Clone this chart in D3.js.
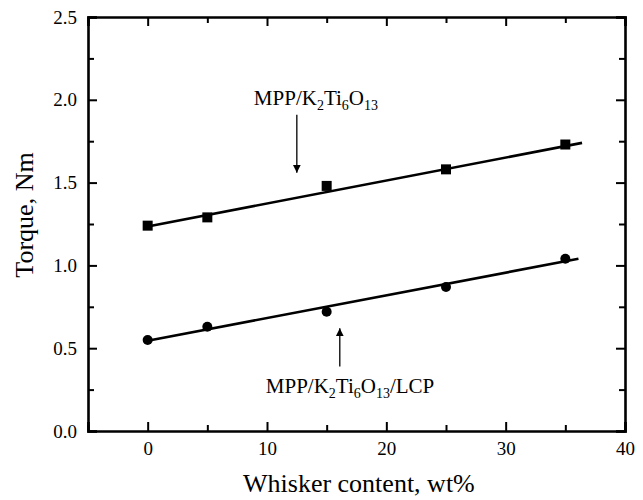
<!DOCTYPE html>
<meta charset="utf-8">
<style>
body { margin: 0; background: #fff; }
.axis text { font-family: 'Liberation Serif', serif; font-size: 19px; fill: #000; }
.axis line, .axis path { stroke: #000; }
</style>
<body>
<div id="chart"></div>
<script src="https://cdnjs.cloudflare.com/ajax/libs/d3/7.8.5/d3.min.js"></script>
<script>
// whisker content (wt%)
var content = [0, 5, 15, 25, 35];
// torque, Nm
var torqueK2Ti = [1.24, 1.29, 1.48, 1.58, 1.73];
var torqueLCP = [0.55, 0.63, 0.72, 0.87, 1.04];
// fitted lines, end points
var fitK2Ti = [[0, 1.235], [36.4, 1.74]];
var fitLCP = [[0, 0.545], [36.1, 1.04]];
var xTicks = [0, 10, 20, 30, 40];
var yTicks = [0.0, 0.5, 1.0, 1.5, 2.0, 2.5];

var margin = {top: 17, right: 18, bottom: 69, left: 88},
    width = 643 - margin.left - margin.right,
    height = 500 - margin.top - margin.bottom;

var svg = d3.select("#chart").append("svg")
    .attr("width", 643)
    .attr("height", 500)
  .append("g")
    .attr("transform", "translate(" + margin.left + "," + margin.top + ")");

var x = d3.scaleLinear().domain([-5, 40]).range([0, width]);
var y = d3.scaleLinear().domain([0, 2.5]).range([height, 0]);

var minorX = d3.range(-5, 40, 10);
var minorY = d3.range(0.25, 2.5, 0.5);

// axes with inward ticks
function addAxis(axis, tr, major, minor, fmt, labels) {
  var g = svg.append("g").attr("class", "axis").attr("transform", tr)
    .call(axis.tickValues(major).tickSize(-9).tickPadding(11).tickFormat(labels ? fmt : ""));
  g.select(".domain").style("stroke-width", 2.6);
  g.selectAll(".tick line").style("stroke-width", 2);
  var g2 = svg.append("g").attr("class", "axis").attr("transform", tr)
    .call(axis.tickValues(minor).tickSize(-6).tickFormat(""));
  g2.select(".domain").remove();
  g2.selectAll(".tick line").style("stroke-width", 2);
}
addAxis(d3.axisBottom(x), "translate(0," + height + ")", xTicks, minorX, d3.format("d"), true);
addAxis(d3.axisTop(x), "translate(0,0)", xTicks, minorX, d3.format("d"), false);
addAxis(d3.axisLeft(y), "translate(0,0)", yTicks, minorY, d3.format(".1f"), true);
addAxis(d3.axisRight(y), "translate(" + width + ",0)", yTicks, minorY, d3.format(".1f"), false);

var line = d3.line()
    .x(function(d) { return x(d[0]); })
    .y(function(d) { return y(d[1]); });

[fitK2Ti, fitLCP].forEach(function(f) {
  svg.append("path")
    .datum(f)
    .attr("d", line)
    .style("fill", "none")
    .style("stroke", "#000")
    .style("stroke-width", 2.6);
});

// squares
svg.selectAll(".sq")
    .data(content)
  .enter().append("rect")
    .attr("x", function(d) { return x(d) - 5; })
    .attr("y", function(d, i) { return y(torqueK2Ti[i]) - 5; })
    .attr("width", 10)
    .attr("height", 10)
    .style("fill", "#000");

// circles
svg.selectAll(".ci")
    .data(content)
  .enter().append("circle")
    .attr("cx", function(d) { return x(d); })
    .attr("cy", function(d, i) { return y(torqueLCP[i]); })
    .attr("r", 5)
    .style("fill", "#000");

// arrow marker
svg.append("defs").append("marker")
    .attr("id", "arrow")
    .attr("viewBox", "0 0 10 10")
    .attr("refX", 10).attr("refY", 5)
    .attr("markerWidth", 6).attr("markerHeight", 8)
    .attr("orient", "auto")
  .append("path")
    .attr("d", "M0,0L10,5L0,10Z")
    .style("fill", "#000");

function annot(tx, ty, ax, ay1, ay2, tail) {
  var t = svg.append("text")
    .attr("x", tx).attr("y", ty)
    .style("font-family", "'Liberation Serif', serif")
    .style("font-size", "21px");
  t.append("tspan").text("MPP/K");
  t.append("tspan").attr("dy", 5).style("font-size", "14px").text("2");
  t.append("tspan").attr("dy", -5).text("Ti");
  t.append("tspan").attr("dy", 5).style("font-size", "14px").text("6");
  t.append("tspan").attr("dy", -5).text("O");
  t.append("tspan").attr("dy", 5).style("font-size", "14px").text("13");
  if (tail) t.append("tspan").attr("dy", -5).text(tail);
  svg.append("line")
    .attr("x1", ax).attr("x2", ax)
    .attr("y1", ay1).attr("y2", ay2)
    .style("stroke", "#000")
    .style("stroke-width", 1.3)
    .attr("marker-end", "url(#arrow)");
}
annot(x(8.9), y(1.97), x(12.5), y(1.91), y(1.56), "");
annot(x(9.9), y(0.23), x(16.1), y(0.39), y(0.62), "/LCP");

// axis titles
svg.append("text")
    .attr("x", x(17.7))
    .attr("y", height + 61)
    .attr("text-anchor", "middle")
    .style("font-family", "'Liberation Serif', serif")
    .style("font-size", "26px")
    .text("Whisker content, wt%");

svg.append("text")
    .attr("transform", "rotate(-90)")
    .attr("x", -198)
    .attr("y", -55)
    .attr("text-anchor", "middle")
    .style("font-family", "'Liberation Serif', serif")
    .style("font-size", "26px")
    .text("Torque, Nm");
</script>
</body>
